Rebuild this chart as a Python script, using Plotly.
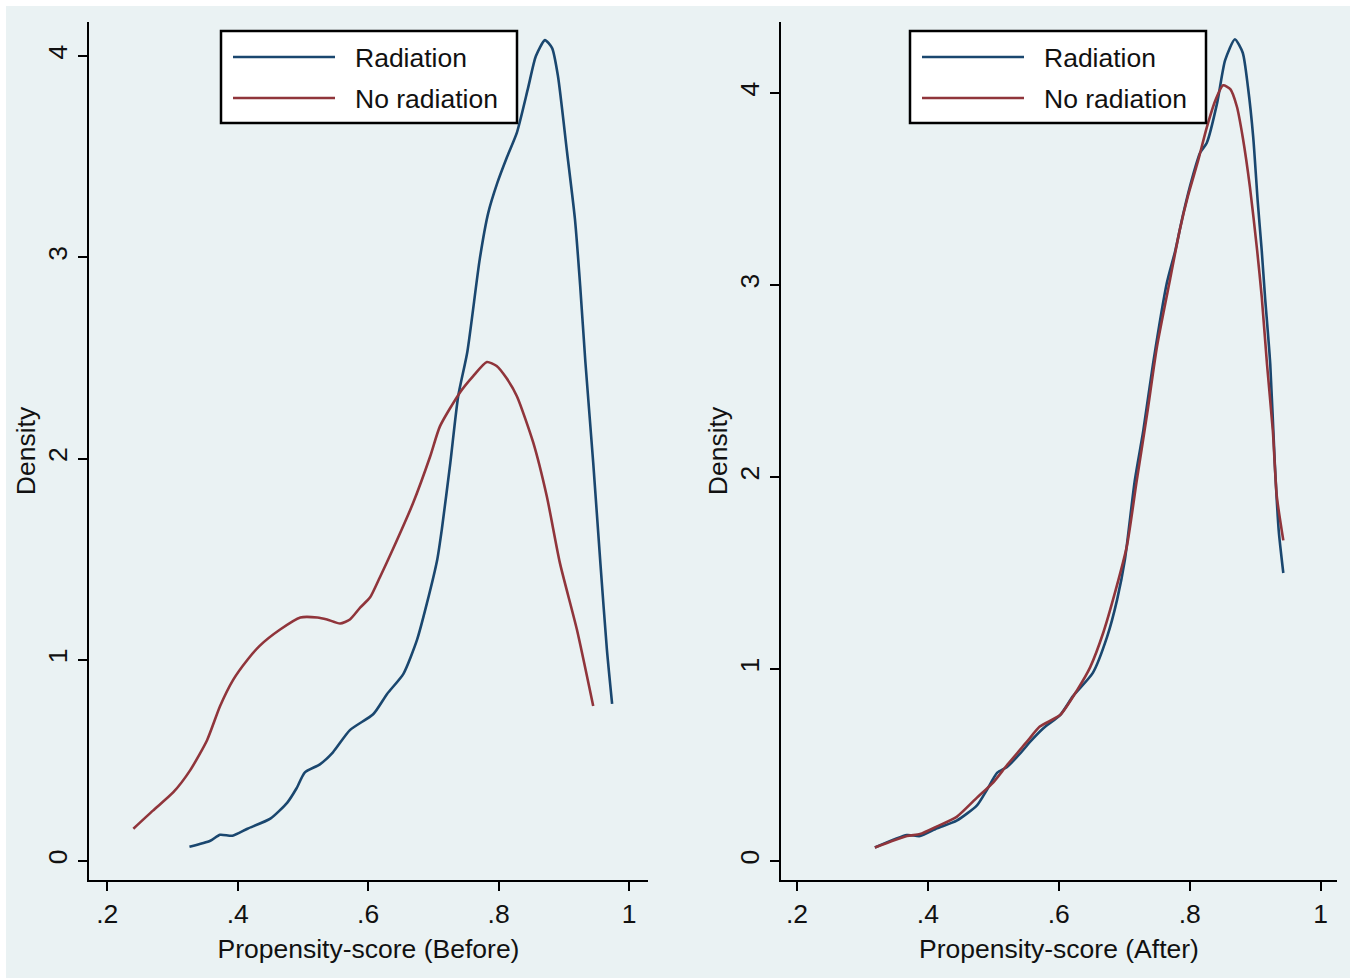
import plotly.graph_objects as go

# ---------------- data ----------------
before_rad_x = [0.326, 0.358, 0.373, 0.392, 0.415, 0.450, 0.476, 0.490, 0.503, 0.526, 0.546, 0.572, 0.608, 0.629,
                0.654, 0.675, 0.690, 0.706, 0.713, 0.726, 0.738, 0.752, 0.771, 0.784, 0.798, 0.813, 0.828, 0.845,
                0.857, 0.871, 0.882, 0.891, 0.905, 0.917, 0.925, 0.933, 0.945, 0.956, 0.966, 0.974]
before_rad_y = [0.07, 0.10, 0.13, 0.125, 0.16, 0.21, 0.29, 0.36, 0.44, 0.48, 0.54, 0.65, 0.73, 0.83,
                0.93, 1.10, 1.28, 1.50, 1.65, 1.98, 2.31, 2.53, 2.99, 3.22, 3.37, 3.50, 3.62, 3.84,
                4.00, 4.08, 4.04, 3.90, 3.52, 3.19, 2.86, 2.48, 1.98, 1.48, 1.05, 0.78]

before_norad_x = [0.240, 0.270, 0.301, 0.327, 0.353, 0.373, 0.393, 0.415, 0.434, 0.465, 0.496, 0.522, 0.537,
                  0.557, 0.572, 0.588, 0.603, 0.618, 0.638, 0.669, 0.695, 0.710, 0.741, 0.761, 0.782, 0.797,
                  0.812, 0.828, 0.853, 0.874, 0.894, 0.920, 0.945]
before_norad_y = [0.16, 0.25, 0.34, 0.45, 0.60, 0.77, 0.90, 1.00, 1.07, 1.15, 1.21, 1.21, 1.20,
                  1.18, 1.20, 1.26, 1.31, 1.41, 1.55, 1.78, 2.01, 2.16, 2.33, 2.41, 2.48, 2.46,
                  2.40, 2.31, 2.08, 1.81, 1.48, 1.15, 0.77]

after_rad_x = [0.319, 0.368, 0.388, 0.414, 0.444, 0.475, 0.490, 0.506, 0.521, 0.541, 0.556, 0.576, 0.602, 0.622,
               0.652, 0.674, 0.689, 0.701, 0.716, 0.729, 0.744, 0.765, 0.778, 0.790, 0.804, 0.816, 0.826, 0.842,
               0.854, 0.869, 0.881, 0.889, 0.897, 0.904, 0.910, 0.915, 0.923, 0.930, 0.936, 0.943]
after_rad_y = [0.07, 0.135, 0.13, 0.17, 0.21, 0.29, 0.37, 0.46, 0.49, 0.56, 0.62, 0.69, 0.76, 0.86,
               0.98, 1.17, 1.36, 1.57, 1.98, 2.24, 2.59, 3.01, 3.18, 3.37, 3.56, 3.69, 3.74, 3.95,
               4.17, 4.28, 4.21, 4.03, 3.77, 3.43, 3.18, 2.94, 2.59, 2.07, 1.72, 1.50]

after_norad_x = [0.319, 0.368, 0.388, 0.414, 0.444, 0.475, 0.500, 0.521, 0.551, 0.571, 0.602, 0.628, 0.648,
                 0.668, 0.686, 0.704, 0.719, 0.735, 0.750, 0.770, 0.785, 0.797, 0.813, 0.826, 0.839, 0.851,
                 0.862, 0.872, 0.881, 0.892, 0.903, 0.910, 0.918, 0.927, 0.933, 0.943]
after_norad_y = [0.07, 0.13, 0.14, 0.18, 0.23, 0.33, 0.41, 0.50, 0.62, 0.70, 0.76, 0.89, 1.01,
                 1.19, 1.40, 1.64, 1.98, 2.33, 2.68, 3.03, 3.29, 3.46, 3.65, 3.82, 3.96, 4.04,
                 4.02, 3.93, 3.77, 3.51, 3.18, 2.94, 2.59, 2.24, 1.90, 1.67]

series_names = ["Radiation", "No radiation"]
x_tickvals = [0.2, 0.4, 0.6, 0.8, 1.0]
x_ticktext = [".2", ".4", ".6", ".8", "1"]
y_tickvals = [0, 1, 2, 3, 4]
x_titles = ["Propensity-score (Before)", "Propensity-score (After)"]
y_title = "Density"

# ---------------- style ----------------
W, H = 1357, 979
NAVY = "#1a476f"
MAROON = "#90353b"
BG = "#eaf2f3"
FONT = "Liberation Sans, Arial, sans-serif"
FS = 26.5
TXT = "#111"


def px(x):
    return x / W


def py(y):
    return 1 - y / H


fig = go.Figure()

panels = [
    dict(xa="x", ya="y", rx=before_rad_x, ry=before_rad_y, nx=before_norad_x, ny=before_norad_y),
    dict(xa="x2", ya="y2", rx=after_rad_x, ry=after_rad_y, nx=after_norad_x, ny=after_norad_y),
]
for p in panels:
    fig.add_trace(go.Scatter(x=p["rx"], y=p["ry"], mode="lines", name=series_names[0],
                             line=dict(color=NAVY, width=2.6, shape="spline", smoothing=0.6),
                             xaxis=p["xa"], yaxis=p["ya"], showlegend=False))
    fig.add_trace(go.Scatter(x=p["nx"], y=p["ny"], mode="lines", name=series_names[1],
                             line=dict(color=MAROON, width=2.6, shape="spline", smoothing=0.6),
                             xaxis=p["xa"], yaxis=p["ya"], showlegend=False))

common_x = dict(tickvals=x_tickvals, ticktext=x_ticktext, showgrid=False, zeroline=False,
                showline=True, linecolor="black", linewidth=2, ticks="outside", ticklen=9,
                tickwidth=2, tickcolor="black", tickfont=dict(size=FS, color=TXT, family=FONT))
common_y = dict(tickvals=y_tickvals, showgrid=True, gridcolor=BG, gridwidth=2, zeroline=False,
                showline=True, linecolor="black", linewidth=2, ticks="outside", ticklen=9,
                tickwidth=2, tickcolor="black", tickangle=-90,
                tickfont=dict(size=FS, color=TXT, family=FONT),
                title=dict(text=y_title, font=dict(size=FS, color=TXT, family=FONT), standoff=0))

fig.update_layout(
    width=W, height=H,
    margin=dict(l=0, r=0, t=0, b=0),
    paper_bgcolor="white",
    plot_bgcolor="white",
    font=dict(family=FONT, size=FS, color=TXT),
    xaxis=dict(domain=[px(89), px(648)], range=[0.172, 1.029], anchor="y",
               title=dict(text=x_titles[0], font=dict(size=FS, color=TXT, family=FONT), standoff=12),
               **common_x),
    yaxis=dict(domain=[py(880), py(22)], range=[-0.095, 4.17], anchor="x", **common_y),
    xaxis2=dict(domain=[px(781), px(1337)], range=[0.1756, 1.025], anchor="y2",
                title=dict(text=x_titles[1], font=dict(size=FS, color=TXT, family=FONT), standoff=12),
                **common_x),
    yaxis2=dict(domain=[py(880), py(22)], range=[-0.099, 4.37], anchor="x2", **common_y),
)

# outer light background panel
fig.add_shape(type="rect", xref="paper", yref="paper", x0=px(6), x1=px(1350), y0=py(978), y1=py(6),
              fillcolor=BG, line=dict(width=0), layer="below")

# manual legends (Stata style)
for off in (0, 689):
    fig.add_shape(type="rect", xref="paper", yref="paper",
                  x0=px(221 + off), x1=px(517 + off), y0=py(123), y1=py(31),
                  fillcolor="white", line=dict(color="black", width=2.5))
    fig.add_shape(type="line", xref="paper", yref="paper",
                  x0=px(233 + off), x1=px(335 + off), y0=py(57), y1=py(57),
                  line=dict(color=NAVY, width=2.6))
    fig.add_shape(type="line", xref="paper", yref="paper",
                  x0=px(233 + off), x1=px(335 + off), y0=py(98), y1=py(98),
                  line=dict(color=MAROON, width=2.6))
    for name, yy in zip(series_names, (58, 99)):
        fig.add_annotation(xref="paper", yref="paper", x=px(353 + off), y=py(yy), text=name,
                           showarrow=False, xanchor="left", yanchor="middle",
                           font=dict(size=FS, color=TXT, family=FONT))

fig.write_html("out.html", config={"displayModeBar": False})

# remove default browser body margin so the figure sits at the page origin
with open("out.html", "r", encoding="utf-8") as f:
    html = f.read()
html = html.replace("<body>", '<body style="margin:0;padding:0;">', 1)
with open("out.html", "w", encoding="utf-8") as f:
    f.write(html)
